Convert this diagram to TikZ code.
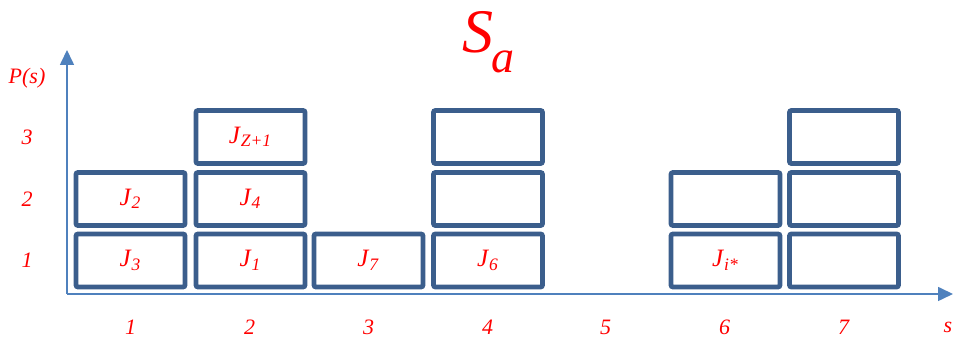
\documentclass[tikz,border=0pt]{standalone}
\usepackage{fontspec}
\setmainfont{Liberation Serif}
\usetikzlibrary{arrows.meta}
\definecolor{axisblue}{RGB}{79,129,189}
\definecolor{boxblue}{RGB}{59,94,140}
\definecolor{labred}{RGB}{255,0,0}
\newcommand{\jb}[1]{\textit{J}\textsubscript{\textit{#1}}}
\tikzset{
  jobbox/.style={draw=boxblue, line width=2.4pt, rounded corners=1pt,
    minimum width=54.5pt, minimum height=26.5pt, inner sep=0pt,
    text=labred, font=\fontsize{12.5}{14}\selectfont},
  ticklab/.style={text=labred, font=\itshape\fontsize{11}{13}\selectfont}
}
\begin{document}
\begin{tikzpicture}[x=0.5pt, y=0.5pt]
\useasboundingbox (0,0) rectangle (953,340);
% axes
\coordinate (o) at (67,46);
\coordinate (ytip) at (67,290);
\coordinate (xtip) at (953,46);
\draw[axisblue, line width=0.8pt, -{Triangle[length=7.5pt, width=7pt]}] (o) -- (ytip);
\draw[axisblue, line width=0.8pt, -{Triangle[length=7.5pt, width=7pt]}] (o) -- (xtip);
\node[ticklab] (ps) at (27,262) {P(s)};
\node[ticklab] (sx) at (948,13) {s};
\foreach \k/\x in {1/130.5, 2/249.5, 3/368.5, 4/487.5, 5/605.5, 6/724.5, 7/843.5}
  \node[ticklab] (col\k) at (\x,13) {\k};
\foreach \r/\y in {1/80, 2/141, 3/203}
  \node[ticklab] (row\r) at (27,\y) {\r};
% title
\node[text=labred, font=\itshape\fontsize{31}{34}\selectfont, inner sep=0pt] (ttlS) at (478,308) {S};
\node[text=labred, font=\itshape\fontsize{23}{26}\selectfont, inner sep=0pt, anchor=west] (ttla) at (491,278) {a};
% job boxes
\node[jobbox] (b11) at (130.5,79.5) {\jb{3}};
\node[jobbox] (b12) at (130.5,141) {\jb{2}};
\node[jobbox] (b21) at (250.5,79.5) {\jb{1}};
\node[jobbox] (b22) at (250.5,141) {\jb{4}};
\node[jobbox] (b23) at (250.5,203) {\jb{Z+1}};
\node[jobbox] (b31) at (368.5,79.5) {\jb{7}};
\node[jobbox] (b41) at (488,79.5) {\jb{6}};
\node[jobbox] (b42) at (488,141) {};
\node[jobbox] (b43) at (488,203) {};
\node[jobbox] (b61) at (725.5,79.5) {\jb{i*}};
\node[jobbox] (b62) at (725.5,141) {};
\node[jobbox] (b71) at (844,79.5) {};
\node[jobbox] (b72) at (844,141) {};
\node[jobbox] (b73) at (844,203) {};
\end{tikzpicture}
\end{document}
